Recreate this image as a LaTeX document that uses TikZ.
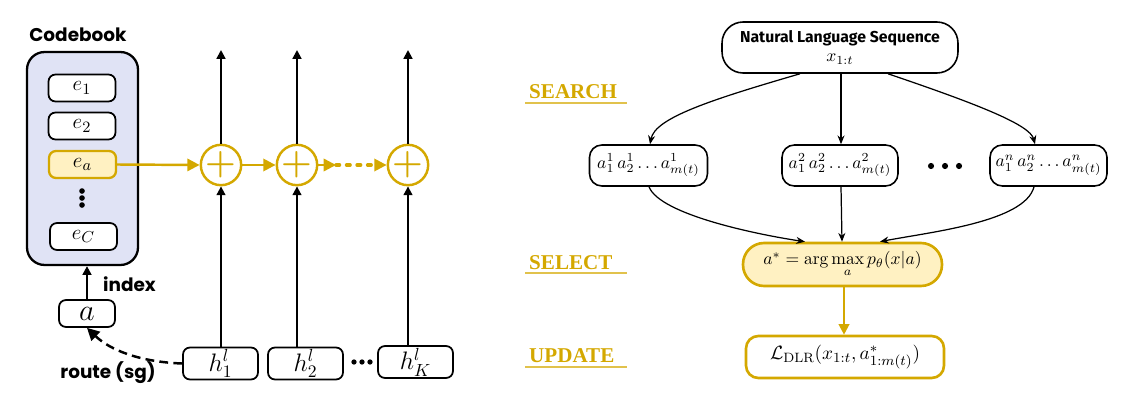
\documentclass[tikz,border=0pt]{standalone}
\usepackage{amsmath}
\usepackage{fontspec}
\newfontfamily\popp{Poppins}
\newfontfamily\fira{Fira Sans}
\newfontfamily\lser{Liberation Serif}
\usetikzlibrary{arrows.meta}
\definecolor{gold}{HTML}{D4A800}
\definecolor{lyellow}{HTML}{FFF1C2}
\definecolor{lav}{HTML}{E0E3F5}
\begin{document}
\begin{tikzpicture}[x=0.02cm,y=-0.02cm,
  ent/.style={draw,line width=1pt,rounded corners=4pt,minimum width=1.34cm,minimum height=0.54cm,fill=white,inner sep=0pt,font=\fontsize{13}{13}\selectfont},
  hbox/.style={draw,line width=1pt,rounded corners=4pt,minimum width=1.5cm,minimum height=0.64cm,fill=white,inner sep=0pt,font=\fontsize{14}{14}\selectfont},
  plus/.style={circle,draw=gold,line width=1.4pt,minimum size=0.76cm,inner sep=0pt,text=gold,font=\fontsize{20}{20}\selectfont\bfseries},
  blk/.style={-{Triangle[length=5pt,width=5pt]},line width=1.1pt},
  gar/.style={-{Triangle[length=7pt,width=7pt]},line width=1.4pt,draw=gold},
  rb/.style={draw,line width=0.9pt,rounded corners=7pt,minimum width=2.36cm,minimum height=0.82cm,inner sep=0pt,font=\fontsize{10}{10}\selectfont},
  tar/.style={-{Stealth[length=5pt,width=4pt]},line width=0.7pt},
  lab/.style={anchor=west,text=gold,font=\lser\bfseries\fontsize{12}{12}\selectfont},
  ul/.style={draw=gold!70,line width=0.8pt},
  dot/.style={circle,fill=black,inner sep=0pt,minimum size=3.2pt}]
\useasboundingbox (0,0) rectangle (1128,402);
% Left panel
\node[font=\popp\bfseries\fontsize{10.5}{10.5}\selectfont] (cbl) at (78,35) {Codebook};
\node[draw,line width=1.3pt,fill=lav,rounded corners=10pt,minimum width=2.22cm,minimum height=4.26cm] (cb) at (82.5,158.5) {};
\node[ent] (e1) at (82,88) {$e_1$};
\node[ent] (e2) at (82,126) {$e_2$};
\node[ent,fill=lyellow,draw=gold,line width=1.3pt] (ea) at (82.5,164.5) {$e_a$};
\node[dot] (v1) at (82,191) {};
\node[dot] (v2) at (82,198) {};
\node[dot] (v3) at (82,205) {};
\node[ent] (ec) at (83.5,236.5) {$e_C$};
\node[hbox,minimum width=1.12cm,minimum height=0.54cm,font=\fontsize{16}{16}\selectfont] (a) at (87,313.5) {$a$};
\draw[blk,line width=1.5pt] (a.north) -- (cb.south-|a.north);
\node[anchor=west,font=\popp\bfseries\fontsize{10.5}{10.5}\selectfont] (idx) at (97,284) {index};
\foreach \i/\x in {1/221,2/297,3/408}{
  \node[plus] (p\i) at (\x,165) {+};
  \coordinate (top\i) at (\x,50);
  \draw[blk] (p\i.north) -- (top\i);
}
\node[hbox] (h1) at (220.5,363.5) {$h_1^l$};
\node[hbox] (h2) at (305.5,363.5) {$h_2^l$};
\node[hbox] (h3) at (415.5,362) {$h_K^l$};
\node[dot,minimum size=3pt] (hd1) at (354,362) {};
\node[dot,minimum size=3pt] (hd2) at (362,362) {};
\node[dot,minimum size=3pt] (hd3) at (370,362) {};
\foreach \i in {1,2,3}{\draw[blk] (h\i.north-|p\i) -- (p\i.south);}
\draw[gar] (ea.east) -- (p1.west);
\draw[gar] (p1.east) -- (p2.west);
\coordinate (d1) at (336,165);
\coordinate (d2) at (375,165);
\draw[gar] (p2.east) -- (d1);
\draw[gold,line width=2pt,dash pattern=on 2pt off 4pt,line cap=round] (d1) -- (d2);
\draw[gar] (d2) -- (p3.west);
\draw[-{Triangle[length=7pt,width=7pt]},line width=1.4pt,dash pattern=on 5pt off 3pt] (h1.west) .. controls (140,362) and (110,350) .. (a.south);
\node[font=\popp\bfseries\fontsize{10.5}{10.5}\selectfont] (rl) at (108,373) {route (sg)};
% Right panel
\node[rb,minimum width=4.72cm,minimum height=1.02cm,rounded corners=12pt,align=center] (nls) at (840,47.5) {{\fira\bfseries\fontsize{9}{9}\selectfont Natural Language Sequence}\\[1pt]$x_{1:t}$};
\node[rb] (b1) at (648.5,165.5) {$a^1_1\,a^1_2\ldots a^1_{m(t)}$};
\node[rb,minimum width=2.32cm] (b2) at (840,165.5) {$a^2_1\,a^2_2\ldots a^2_{m(t)}$};
\node[rb,minimum width=2.34cm] (b3) at (1048.5,165.5) {$a^n_1\,a^n_2\ldots a^n_{m(t)}$};
\node[dot,minimum size=3.5pt] (bd1) at (931,166) {};
\node[dot,minimum size=3.5pt] (bd2) at (945,166) {};
\node[dot,minimum size=3.5pt] (bd3) at (959,166) {};
\node[rb,fill=lyellow,draw=gold,line width=1.5pt,rounded corners=12pt,minimum width=3.98cm,minimum height=0.86cm] (sel) at (842.5,264.5) {$a^*=\arg\max\limits_a p_\theta(x|a)$};
\node[rb,draw=gold,line width=1.5pt,minimum width=3.96cm,minimum height=0.84cm,font=\fontsize{11}{11}\selectfont] (upd) at (845,357) {$\mathcal{L}_{\mathrm{DLR}}(x_{1:t},a^*_{1:m(t)})$};
\draw[tar] (nls.south-|800,0) .. controls (710,100) and (655,118) .. (b1.north-|650,0);
\draw[tar] (nls.south-|841,0) -- (b2.north-|841,0);
\draw[tar] (nls.south-|888,0) .. controls (980,105) and (1030,125) .. (b3.north-|1035,0);
\draw[tar] (b1.south-|649,0) .. controls (660,215) and (760,235) .. (sel.north-|805,0);
\draw[tar] (b2.south-|841,0) -- (sel.north-|842,0);
\draw[tar] (b3.south-|1034,0) .. controls (1025,222) and (930,232) .. (sel.north-|880,0);
\draw[gar,line width=1.2pt,-{Triangle[length=6pt,width=6pt]}] (sel.south-|844,0) -- (upd.north-|844,0);
\node[lab] (s) at (523,92) {SEARCH};
\node[lab] (se) at (523,263) {SELECT};
\node[lab] (u) at (523,356) {UPDATE};
\coordinate (u1a) at (525,103); \coordinate (u1b) at (627,103);
\coordinate (u2a) at (525,273); \coordinate (u2b) at (627,273);
\coordinate (u3a) at (525,367); \coordinate (u3b) at (627,367);
\draw[ul] (u1a) -- (u1b); \draw[ul] (u2a) -- (u2b); \draw[ul] (u3a) -- (u3b);
\end{tikzpicture}
\end{document}
